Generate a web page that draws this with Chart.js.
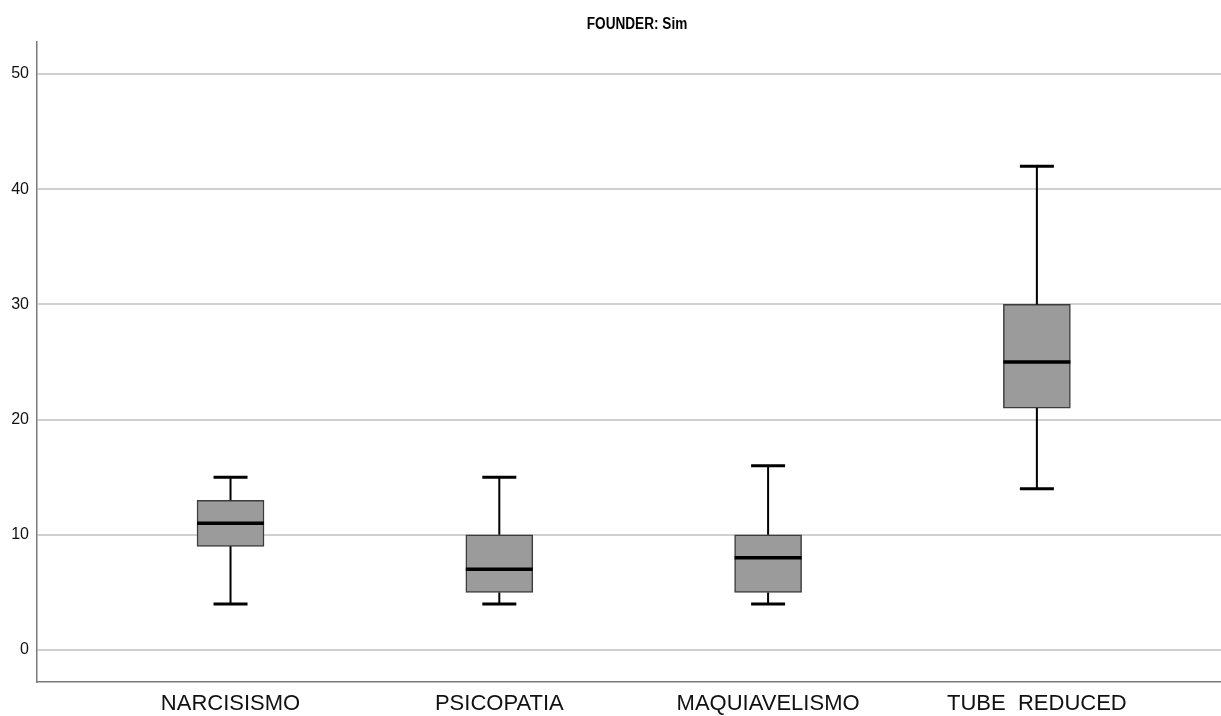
<!DOCTYPE html>
<html>
<head>
<meta charset="utf-8">
<title>FOUNDER: Sim</title>
<script src="https://cdn.jsdelivr.net/npm/chart.js@4/dist/chart.umd.min.js"></script>
<style>
  html, body { margin: 0; padding: 0; background: #ffffff; }
  #wrap { width: 1221px; height: 716px; }
</style>
</head>
<body>
<div id="wrap"><canvas id="chart" width="1221" height="716"></canvas></div>
<script>
// Box-plot summaries per scale
const categories = ['NARCISISMO', 'PSICOPATIA', 'MAQUIAVELISMO', 'TUBE  REDUCED'];
const minimums   = [4, 4, 4, 14];
const lowerQuart = [9, 5, 5, 21];
const medians    = [11, 7, 8, 25];
const upperQuart = [13, 10, 10, 30];
const maximums   = [15, 15, 16, 42];
const yTicks     = [0, 10, 20, 30, 40, 50];
const chartTitle = 'FOUNDER: Sim';

const positions = categories.map((_, i) => i + 1);

// Whiskers, caps and medians are drawn on top of the box bars
const boxPlotExtras = {
  id: 'boxPlotExtras',
  afterDatasetsDraw(chart) {
    const { ctx, scales: { x, y } } = chart;
    ctx.save();
    positions.forEach((pos, i) => {
      const cx = x.getPixelForValue(pos);
      const boxHalf = 33.5;
      const capHalf = 17;
      const yMin = y.getPixelForValue(minimums[i]);
      const yQ1 = y.getPixelForValue(lowerQuart[i]);
      const yMed = y.getPixelForValue(medians[i]);
      const yQ3 = y.getPixelForValue(upperQuart[i]);
      const yMax = y.getPixelForValue(maximums[i]);

      ctx.strokeStyle = '#000000';
      ctx.lineCap = 'butt';

      // whisker stems
      ctx.lineWidth = 2;
      ctx.beginPath();
      ctx.moveTo(cx, yQ3); ctx.lineTo(cx, yMax);
      ctx.moveTo(cx, yQ1); ctx.lineTo(cx, yMin);
      ctx.stroke();

      // whisker caps
      ctx.lineWidth = 3;
      ctx.beginPath();
      ctx.moveTo(cx - capHalf, yMax); ctx.lineTo(cx + capHalf, yMax);
      ctx.moveTo(cx - capHalf, yMin); ctx.lineTo(cx + capHalf, yMin);
      ctx.stroke();

      // median
      ctx.lineWidth = 3.5;
      ctx.beginPath();
      ctx.moveTo(cx - boxHalf, yMed); ctx.lineTo(cx + boxHalf, yMed);
      ctx.stroke();
    });
    ctx.restore();
  }
};

// Condensed bold heading above the plot area
const narrowTitle = {
  id: 'narrowTitle',
  afterDraw(chart) {
    const { ctx } = chart;
    ctx.save();
    ctx.font = "bold 16px 'Liberation Sans', Arial, sans-serif";
    ctx.fillStyle = '#000000';
    ctx.textAlign = 'center';
    ctx.textBaseline = 'middle';
    ctx.translate(637, 25);
    ctx.scale(0.85, 1);
    ctx.fillText(chartTitle, 0, 0);
    ctx.restore();
  }
};

new Chart(document.getElementById('chart'), {
  type: 'bar',
  data: {
    datasets: [{
      data: positions.map((pos, i) => ({ x: pos, y: [lowerQuart[i], upperQuart[i]] })),
      backgroundColor: '#9b9b9b',
      borderColor: '#3c3c3c',
      borderWidth: 1.5,
      borderSkipped: false,
      barThickness: 67
    }]
  },
  options: {
    responsive: false,
    animation: false,
    layout: { padding: { top: 42, left: 0, right: 0, bottom: 0 } },
    plugins: {
      legend: { display: false },
      tooltip: { enabled: false },
      title: { display: false }
    },
    scales: {
      x: {
        type: 'linear',
        offset: false,
        min: 0.28,
        max: 4.685,
        afterBuildTicks(scale) { scale.ticks = positions.map(v => ({ value: v })); },
        afterFit(scale) { scale.height = 34; },
        grid: { display: false, drawTicks: false, offset: false },
        border: { display: true, color: '#7a7a7a', width: 1.5 },
        ticks: {
          padding: 9,
          color: '#111111',
          autoSkip: false,
          maxRotation: 0,
          font: { family: "'Liberation Sans', Arial, sans-serif", size: 22 },
          callback: (v) => categories[Math.round(v) - 1] || ''
        }
      },
      y: {
        min: -2.78,
        max: 52.78,
        afterBuildTicks(scale) { scale.ticks = yTicks.map(v => ({ value: v })); },
        afterFit(scale) { scale.width = 37; },
        grid: { color: '#d0d0d0', lineWidth: 2, drawTicks: false },
        border: { display: true, color: '#7a7a7a', width: 1.5 },
        ticks: {
          padding: 8,
          color: '#111111',
          font: { family: "'Liberation Sans', Arial, sans-serif", size: 16 }
        }
      }
    }
  },
  plugins: [boxPlotExtras, narrowTitle]
});
</script>
</body>
</html>
